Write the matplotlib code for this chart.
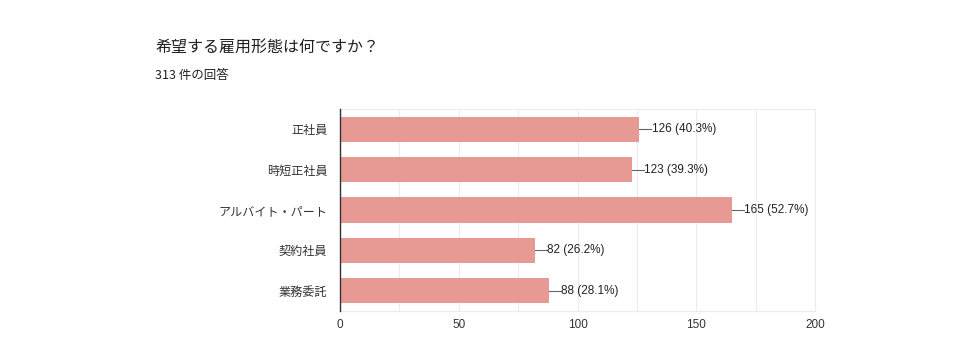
import matplotlib.pyplot as plt

plt.rcParams['font.family'] = ['Noto Sans CJK JP', 'DejaVu Sans']

categories = ['正社員', '時短正社員', 'アルバイト・パート', '契約社員', '業務委託']
counts = [126, 123, 165, 82, 88]
percents = [40.3, 39.3, 52.7, 26.2, 28.1]
xticks = [0, 50, 100, 150, 200]

fig = plt.figure(figsize=(9.8, 3.64), dpi=100)
ax = fig.add_axes([340/980, 1 - 311/364, 475/980, 202/364])

ypos = list(range(len(categories)))
ax.barh(ypos, counts, height=0.62, color='#E69A93', zorder=2)

# leader line + value label at the end of each bar
for y, c, p in zip(ypos, counts, percents):
    ax.plot([c, c + 5], [y, y], color='#666666', lw=0.8, zorder=3)
    ax.text(c + 5.2, y, f'{c} ({p}%)', va='center', ha='left',
            fontsize=8.5, color='#222222', family=['Liberation Sans', 'DejaVu Sans'])

ax.set_xlim(0, 200)
ax.set_ylim(4.5, -0.5)
ax.set_yticks(ypos)
ax.set_yticklabels(categories, fontsize=8.7, color='#333333')
ax.set_xticks(xticks)
ax.set_xticklabels([str(t) for t in xticks], fontsize=8.5, color='#333333',
                   family=['Liberation Sans', 'DejaVu Sans'])
ax.set_xticks(range(0, 201, 25), minor=True)
ax.grid(axis='x', which='both', color='#ececec', lw=0.8, zorder=0)
ax.tick_params(axis='both', which='both', length=0)
ax.tick_params(axis='y', pad=9)
ax.tick_params(axis='x', pad=6)

for s in ['top', 'right', 'bottom']:
    ax.spines[s].set_color('#ececec')
    ax.spines[s].set_linewidth(0.8)
ax.spines['left'].set_color('#333333')
ax.spines['left'].set_linewidth(1.0)
ax.spines['left'].set_zorder(4)

fig.text(155/980, 1 - 47/364, '希望する雇用形態は何ですか？', fontsize=11.5,
         color='#202124', va='center', ha='left')
fig.text(155/980, 1 - 75/364, '313 件の回答', fontsize=9,
         color='#202124', va='center', ha='left')

fig.savefig('out.png', dpi=100)
